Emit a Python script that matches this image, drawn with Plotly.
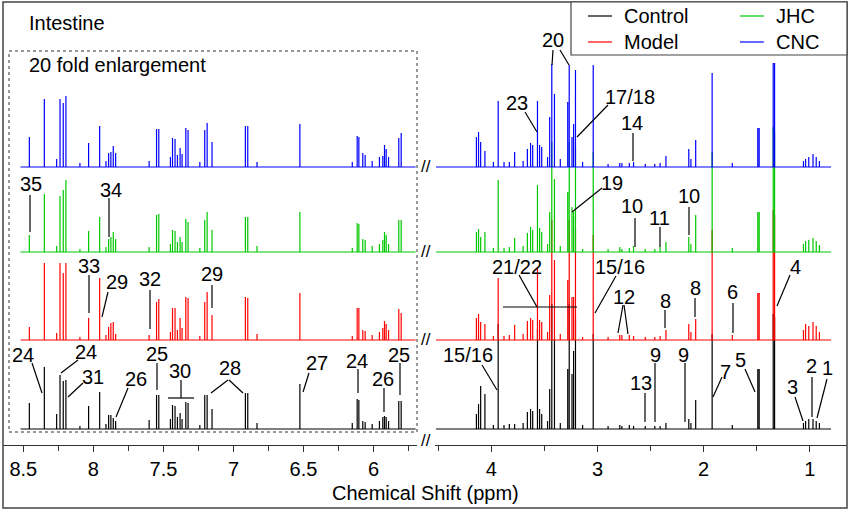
import numpy as np
import plotly.graph_objects as go

# ---- data: peak positions (ppm) and peak heights ----
# left panel = 6.0-8.5 ppm region, heights as drawn (already 20 fold enlarged)
left_ppm = [8.457, 8.350, 8.262, 8.238, 8.215, 8.196, 8.096, 8.034, 7.955, 7.910,
            7.891, 7.875, 7.858, 7.841, 7.602, 7.549, 7.533, 7.450, 7.435, 7.417,
            7.400, 7.381, 7.367, 7.340, 7.324, 7.240, 7.205, 7.188, 7.153, 6.915,
            6.898, 6.832, 6.526, 6.152, 6.117, 6.105, 6.077, 6.060, 6.010, 5.958,
            5.934, 5.922, 5.910, 5.893, 5.820, 5.803]
left_control = [26, 62, 15, 54, 48, 49, 3, 23, 37, 5, 14, 14, 11, 8, 9, 34, 34, 10, 24, 23,
                12, 16, 10, 27, 26, 4, 34, 34, 20, 36, 36, 6, 45, 6, 30, 29, 8, 7, 5, 8,
                12, 13, 12, 8, 28, 28]
left_model = [13, 77, 7, 77, 67, 77, 3, 22, 62, 5, 13, 17, 18, 6, 5, 38, 41, 8, 32, 32,
              10, 22, 12, 43, 42, 4, 38, 48, 25, 43, 42, 6, 47, 4, 32, 32, 10, 9, 5, 8,
              12, 19, 16, 10, 31, 27]
left_jhc = [17, 58, 6, 56, 62, 72, 3, 21, 35, 5, 13, 15, 20, 13, 5, 37, 38, 8, 22, 21,
            10, 15, 10, 33, 30, 4, 32, 40, 22, 35, 35, 6, 40, 4, 29, 28, 13, 12, 6, 8,
            12, 20, 17, 8, 32, 32]
left_cnc = [30, 68, 8, 68, 64, 71, 4, 24, 41, 6, 14, 15, 21, 14, 6, 38, 38, 10, 29, 28,
            12, 19, 13, 39, 37, 5, 37, 44, 25, 41, 41, 5, 43, 5, 31, 30, 14, 12, 6, 10,
            11, 22, 18, 10, 29, 34]

# right panel = 0.8-4.5 ppm region
right_ppm = [4.140, 4.120, 4.100, 4.060, 3.980, 3.935, 3.880, 3.830, 3.780, 3.700,
             3.660, 3.630, 3.610, 3.565, 3.545, 3.525, 3.470, 3.450, 3.430, 3.405,
             3.350, 3.280, 3.266, 3.240, 3.225, 3.207, 3.140, 3.040, 2.900, 2.790,
             2.770, 2.700, 2.660, 2.550, 2.460, 2.410, 2.355, 2.140, 2.120, 2.075,
             1.920, 1.730, 1.490, 1.477, 1.345, 1.332, 1.060, 1.040, 1.010, 0.970,
             0.940, 0.910]
right_control = [15, 25, 43, 35, 4, 105, 4, 5, 5, 6, 17, 20, 18, 100, 20, 15, 8, 40, 125, 90,
                 6, 60, 125, 55, 78, 110, 4, 95, 3, 4, 3, 4, 3, 3, 3, 3, 6, 10, 6, 29,
                 95, 4, 60, 60, 115, 112, 6, 8, 10, 10, 8, 6]
right_model = [22, 26, 18, 16, 4, 62, 4, 5, 15, 6, 19, 22, 20, 73, 20, 18, 8, 45, 120, 80,
               6, 60, 120, 43, 43, 110, 3, 105, 3, 5, 5, 5, 4, 3, 3, 4, 10, 16, 8, 21,
               110, 5, 47, 47, 130, 125, 10, 16, 14, 18, 14, 8]
right_jhc = [20, 23, 15, 20, 4, 72, 4, 5, 14, 6, 19, 25, 22, 67, 24, 20, 8, 40, 110, 73,
             6, 60, 110, 45, 40, 105, 3, 100, 3, 5, 3, 4, 6, 3, 3, 5, 10, 15, 8, 37,
             100, 4, 40, 40, 125, 120, 8, 11, 12, 14, 11, 7]
right_cnc = [30, 35, 25, 16, 5, 66, 5, 5, 15, 6, 18, 24, 22, 66, 22, 20, 10, 50, 103, 73,
             8, 65, 102, 30, 43, 97, 5, 102, 3, 4, 4, 4, 5, 3, 3, 4, 11, 18, 8, 27,
             94, 4, 39, 39, 104, 104, 6, 8, 10, 13, 10, 6]

groups = ['Control', 'Model', 'JHC', 'CNC']
colors = {'Control': '#000000', 'Model': '#ff0000', 'JHC': '#00c800', 'CNC': '#0000ff'}
baseline = {'Control': 16, 'Model': 105, 'JHC': 193, 'CNC': 278}   # vertical stacking offsets
left_h = {'Control': left_control, 'Model': left_model, 'JHC': left_jhc, 'CNC': left_cnc}
right_h = {'Control': right_control, 'Model': right_model, 'JHC': right_jhc, 'CNC': right_cnc}

W, H = 850, 511
FONT = 'Liberation Sans, Arial, sans-serif'


def spectrum_xy(ppm, heights, base, lo, hi):
    """baseline -> peak top -> baseline, peak by peak (stick spectrum)"""
    order = np.argsort(ppm)[::-1]
    p = np.asarray(ppm, dtype=float)[order]
    h = np.asarray(heights, dtype=float)[order]
    x = np.concatenate([[lo], np.repeat(p, 3), [hi]])
    y = np.full(x.shape, float(base))
    y[2::3] = base + h
    return x, y


def px(x):
    return x / W


def py(y):
    return 1 - y / H


def text_at(text, x, y, anchor='center'):
    return dict(text=text, xref='paper', yref='paper', x=px(x), y=py(y),
                xanchor=anchor, yanchor='middle', showarrow=False,
                font=dict(size=20, color='black', family=FONT))


fig = go.Figure()

for g in groups:
    x, y = spectrum_xy(left_ppm, left_h[g], baseline[g], 8.52, 5.70)
    fig.add_trace(go.Scatter(x=x, y=y, mode='lines', xaxis='x', yaxis='y',
                             line=dict(color=colors[g], width=1.2), name=g,
                             showlegend=False, hoverinfo='skip'))
    x, y = spectrum_xy(right_ppm, right_h[g], baseline[g], 4.52, 0.80)
    fig.add_trace(go.Scatter(x=x, y=y, mode='lines', xaxis='x2', yaxis='y',
                             line=dict(color=colors[g], width=1.2), name=g,
                             showlegend=False, hoverinfo='skip'))

shapes = []
annotations = []

# outer frame and the dotted box around the enlarged region
shapes.append(dict(type='rect', xref='paper', yref='paper', x0=px(3), x1=px(847),
                   y0=py(508), y1=py(2), line=dict(color='#444444', width=1.5)))
shapes.append(dict(type='rect', xref='paper', yref='paper', x0=px(9), x1=px(417),
                   y0=py(432), y1=py(51), line=dict(color='#333333', width=1, dash='dot')))

# legend (two columns, boxed)
shapes.append(dict(type='rect', xref='paper', yref='paper', x0=px(571), x1=px(847),
                   y0=py(55), y1=py(2), line=dict(color='#444444', width=1.2),
                   fillcolor='white'))
legend_pos = {'Control': (588, 16), 'Model': (588, 42), 'JHC': (740, 16), 'CNC': (740, 42)}
for g, (lx, ly) in legend_pos.items():
    shapes.append(dict(type='line', xref='paper', yref='paper', x0=px(lx), x1=px(lx + 24),
                       y0=py(ly), y1=py(ly), line=dict(color=colors[g], width=1.2)))
    annotations.append(text_at(g, lx + 34, ly, 'left'))

# axis break marks
for yy in [166, 251, 339, 440]:
    a = text_at('//', 426, yy)
    a['font'] = dict(size=17, color='black', family=FONT)
    annotations.append(a)

# titles
annotations.append(text_at('Intestine', 27, 23, 'left'))
annotations.append(text_at('20 fold enlargement', 27, 65, 'left'))
annotations.append(text_at('Chemical Shift (ppm)', 425, 493))

# peak assignments: text centre and leader lines (pixel positions)
peak_labels = [
    ('20', 553, 40, [(553, 50, 552, 65), (560, 50, 569, 65)]),
    ('23', 517, 103, [(525, 112, 537, 132)]),
    ('17/18', 630, 97, [(608, 105, 577, 137)]),
    ('14', 632, 123, [(633, 133, 633, 161)]),
    ('19', 612, 183, [(602, 188, 572, 212)]),
    ('10', 632, 206, [(635, 218, 635, 247)]),
    ('11', 659, 218, [(660, 227, 660, 247)]),
    ('10', 689, 196, [(689, 207, 689, 235)]),
    ('21/22', 517, 267, [(519, 275, 537, 307), (503, 307, 577, 307)]),
    ('15/16', 620, 267, [(616, 276, 595, 313)]),
    ('12', 624, 297, [(623, 305, 618, 333), (624, 305, 628, 334)]),
    ('8', 665, 301, [(665, 310, 665, 328)]),
    ('8', 695, 288, [(695, 298, 695, 317)]),
    ('6', 732, 292, [(733, 303, 733, 333)]),
    ('4', 795, 267, [(790, 275, 777, 306)]),
    ('15/16', 468, 355, [(482, 365, 497, 390)]),
    ('13', 641, 383, [(645, 393, 645, 422)]),
    ('9', 655, 355, [(655, 363, 655, 422)]),
    ('9', 683, 355, [(685, 363, 685, 422)]),
    ('7', 725, 372, [(722, 377, 713, 397)]),
    ('5', 740, 360, [(745, 369, 755, 392)]),
    ('3', 792, 387, [(795, 397, 803, 421)]),
    ('2', 811, 366, [(812, 377, 812, 417)]),
    ('1', 827, 368, [(827, 379, 817, 418)]),
    ('35', 31, 184, [(30, 195, 30, 232)]),
    ('34', 111, 190, [(109, 198, 109, 237)]),
    ('33', 89, 266, [(89, 275, 89, 313)]),
    ('29', 117, 282, [(108, 292, 102, 317)]),
    ('32', 150, 279, [(150, 290, 150, 329)]),
    ('29', 212, 274, [(212, 285, 212, 308)]),
    ('24', 23, 355, [(32, 363, 42, 393)]),
    ('24', 86, 352, [(78, 360, 61, 373)]),
    ('31', 93, 377, [(83, 383, 68, 397)]),
    ('26', 136, 379, [(128, 388, 116, 417)]),
    ('25', 157, 354, [(157, 363, 157, 390)]),
    ('30', 180, 371, [(181, 380, 181, 398), (168, 398, 194, 398)]),
    ('28', 230, 368, [(228, 380, 211, 393), (229, 380, 243, 393)]),
    ('27', 317, 363, [(309, 373, 303, 392)]),
    ('24', 357, 361, [(358, 369, 358, 393)]),
    ('26', 383, 379, [(384, 388, 384, 412)]),
    ('25', 399, 355, [(400, 363, 400, 395)]),
]
for text, tx, ty, segs in peak_labels:
    annotations.append(text_at(text, tx, ty))
    for x0, y0, x1, y1 in segs:
        shapes.append(dict(type='line', xref='paper', yref='paper', x0=px(x0), y0=py(y0),
                           x1=px(x1), y1=py(y1), line=dict(color='black', width=1.2)))

axis_style = dict(showline=True, linecolor='#333333', linewidth=1.2, ticks='outside',
                  ticklen=6, tickwidth=1.2, tickcolor='#333333', showgrid=False,
                  zeroline=False, anchor='y', ticklabelstandoff=0,
                  tickfont=dict(size=20, color='black', family=FONT))

fig.update_layout(
    width=W, height=H,
    margin=dict(l=0, r=0, t=0, b=0),
    paper_bgcolor='white', plot_bgcolor='white',
    showlegend=False,
    xaxis=dict(domain=[px(3), px(417)], range=[8.645, 5.69], dtick=0.5,
               minor=dict(dtick=0.25, ticks='outside', ticklen=5, tickcolor='#333333'),
               **axis_style),
    xaxis2=dict(domain=[px(435), px(847)], range=[4.53, 0.65], dtick=1,
                minor=dict(dtick=0.5, ticks='outside', ticklen=5, tickcolor='#333333'),
                **axis_style),
    yaxis=dict(domain=[1 - 445 / H, 1], range=[0, 445], visible=False),
    shapes=shapes,
    annotations=annotations,
)

# the page's default 8px body margin would shift the figure; drop it
fig.write_html("out.html", config={'displayModeBar': False},
               post_script="document.body.style.margin='0px';")
